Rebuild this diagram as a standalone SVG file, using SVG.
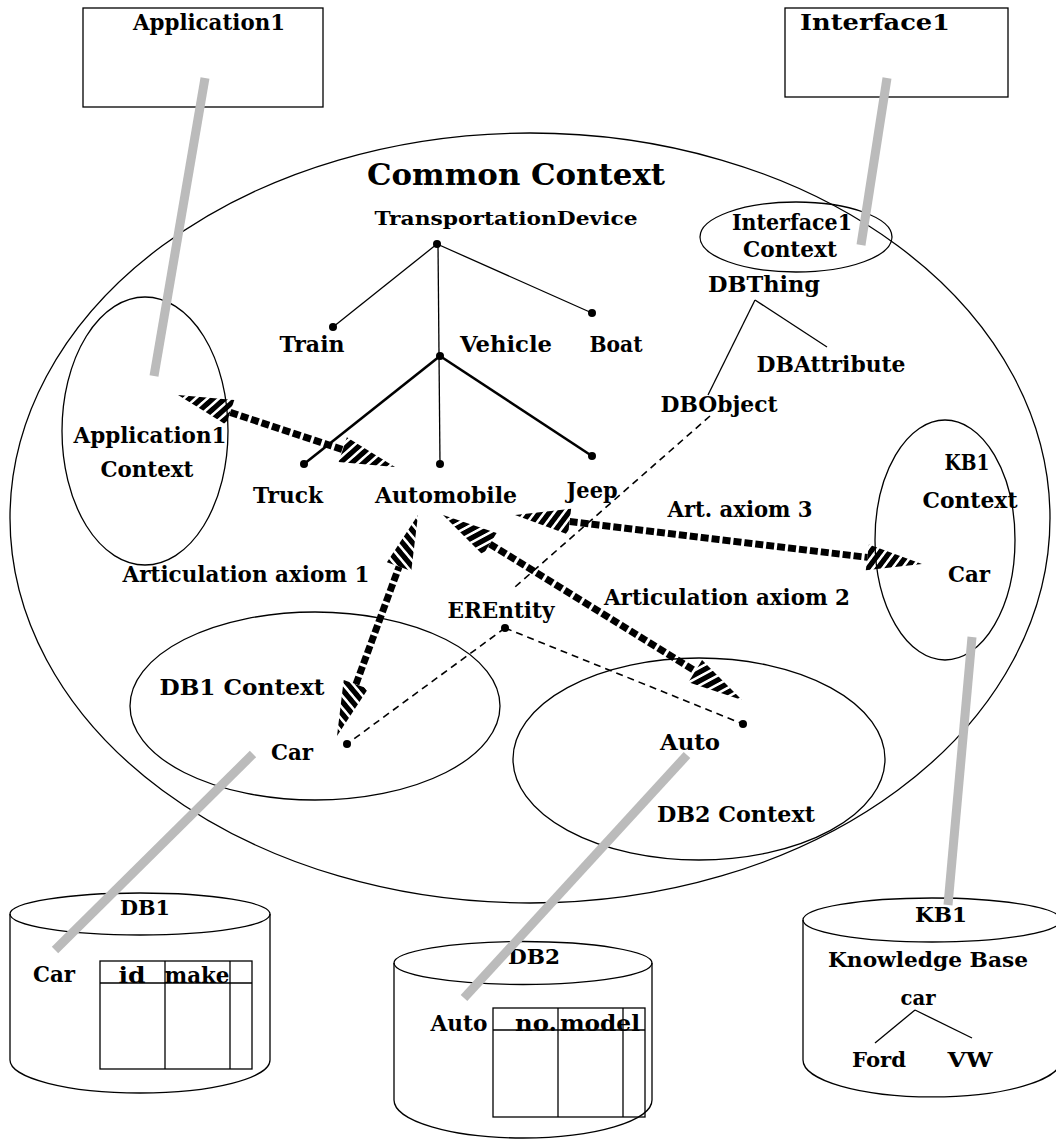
<svg xmlns="http://www.w3.org/2000/svg" width="1056" height="1139" viewBox="0 0 1056 1139">
<style>
.t{font-family:"DejaVu Serif","Liberation Serif",serif;font-weight:bold;font-size:23px;text-anchor:middle;fill:#000}
.s{font-size:21px}
.ol{fill:none;stroke:#000;stroke-width:1.3}
.bx{fill:#fff;stroke:#000;stroke-width:1.3}
.thin{stroke:#000;stroke-width:1.3;fill:none}
.thick{stroke:#000;stroke-width:2.6;fill:none}
.dash{stroke:#000;stroke-width:1.6;stroke-dasharray:7 5;fill:none}
.gray{stroke:#bbbbbb;stroke-width:9;fill:none}
.shaft{fill:url(#shaftPat)}
.head{fill:url(#headPat)}
</style>
<defs>
<pattern id="shaftPat" patternUnits="userSpaceOnUse" width="11" height="40"><rect x="0" y="0" width="8" height="40" fill="#000"/></pattern>
<pattern id="headPat" patternUnits="userSpaceOnUse" width="9" height="40" patternTransform="skewX(-30)"><rect x="0" y="0" width="6" height="40" fill="#000"/></pattern>
</defs>
<rect width="1056" height="1139" fill="#fff"/>

<g id="common-context">
<ellipse class="ol" cx="530" cy="518" rx="520" ry="385"/>
<text class="t" x="516" y="185" style="font-size:30px" textLength="298" lengthAdjust="spacingAndGlyphs">Common Context</text>
</g>

<g id="application1">
<rect class="bx" x="83" y="8" width="240" height="99"/>
<text class="t" x="209" y="30" textLength="152" lengthAdjust="spacingAndGlyphs">Application1</text>
</g>
<g id="interface1">
<rect class="bx" x="785" y="8" width="223" height="89"/>
<text class="t" x="875" y="30" textLength="150" lengthAdjust="spacingAndGlyphs">Interface1</text>
</g>

<g id="application1-context">
<ellipse class="ol" cx="145" cy="431" rx="83" ry="134"/>
<text class="t" x="150" y="443" textLength="153" lengthAdjust="spacingAndGlyphs">Application1</text>
<text class="t" x="147" y="477" textLength="93" lengthAdjust="spacingAndGlyphs">Context</text>
</g>
<g id="interface1-context">
<ellipse class="ol" cx="796" cy="237" rx="96" ry="35"/>
<text class="t" x="792" y="230" textLength="120" lengthAdjust="spacingAndGlyphs">Interface1</text>
<text class="t" x="790" y="257" textLength="94" lengthAdjust="spacingAndGlyphs">Context</text>
</g>
<g id="kb1-context">
<ellipse class="ol" cx="945" cy="540" rx="70" ry="120"/>
<text class="t" x="967" y="470" textLength="45" lengthAdjust="spacingAndGlyphs">KB1</text>
<text class="t" x="970" y="508" textLength="95" lengthAdjust="spacingAndGlyphs">Context</text>
<text class="t" x="969" y="582" textLength="42" lengthAdjust="spacingAndGlyphs">Car</text>
</g>
<g id="db1-context">
<ellipse class="ol" cx="315" cy="706" rx="185" ry="94"/>
<text class="t" x="242" y="695" textLength="165" lengthAdjust="spacingAndGlyphs">DB1 Context</text>
<text class="t" x="292" y="760" textLength="42" lengthAdjust="spacingAndGlyphs">Car</text>
</g>
<g id="db2-context">
<ellipse class="ol" cx="699" cy="759" rx="186" ry="101"/>
<text class="t" x="690" y="750" textLength="60" lengthAdjust="spacingAndGlyphs">Auto</text>
<text class="t" x="736" y="822" textLength="158" lengthAdjust="spacingAndGlyphs">DB2 Context</text>
</g>

<g id="transportation-device"><text class="t" x="506" y="225" style="font-size:19px" textLength="263" lengthAdjust="spacingAndGlyphs">TransportationDevice</text></g>
<g id="train"><text class="t" x="312" y="352" textLength="65" lengthAdjust="spacingAndGlyphs">Train</text></g>
<g id="vehicle"><text class="t" x="506" y="352" textLength="92" lengthAdjust="spacingAndGlyphs">Vehicle</text></g>
<g id="boat"><text class="t" x="616" y="352" textLength="53" lengthAdjust="spacingAndGlyphs">Boat</text></g>
<g id="truck"><text class="t" x="288" y="503" textLength="70" lengthAdjust="spacingAndGlyphs">Truck</text></g>
<g id="automobile"><text class="t" x="446" y="503" textLength="142" lengthAdjust="spacingAndGlyphs">Automobile</text></g>
<g id="jeep"><text class="t" x="592" y="498" textLength="51" lengthAdjust="spacingAndGlyphs">Jeep</text></g>
<g id="dbthing"><text class="t" x="764" y="292" textLength="112" lengthAdjust="spacingAndGlyphs">DBThing</text></g>
<g id="dbattribute"><text class="t" x="831" y="372" textLength="149" lengthAdjust="spacingAndGlyphs">DBAttribute</text></g>
<g id="dbobject"><text class="t" x="719" y="412" textLength="117" lengthAdjust="spacingAndGlyphs">DBObject</text></g>
<g id="erentity"><text class="t" x="501" y="618" textLength="107" lengthAdjust="spacingAndGlyphs">EREntity</text></g>

<g id="db1">
<path class="bx" d="M10,914 L10,1060 A130,33 0 0 0 270,1060 L270,914"/>
<ellipse class="ol" cx="140" cy="914" rx="130" ry="21"/>
<rect class="ol" x="100" y="961" width="152" height="108"/>
<line class="thin" x1="100" y1="983" x2="252" y2="983"/>
<line class="thin" x1="165" y1="961" x2="165" y2="1069"/>
<line class="thin" x1="230" y1="961" x2="230" y2="1069"/>
<text class="t s" x="145" y="915" textLength="50" lengthAdjust="spacingAndGlyphs">DB1</text>
<text class="t" x="54" y="982" textLength="42" lengthAdjust="spacingAndGlyphs">Car</text>
<text class="t" x="132" y="983" textLength="27" lengthAdjust="spacingAndGlyphs">id</text>
<text class="t" x="197" y="983" textLength="65" lengthAdjust="spacingAndGlyphs">make</text>
</g>
<g id="db2">
<path class="bx" d="M394,963 L394,1100 A129,38 0 0 0 652,1100 L652,963"/>
<ellipse class="ol" cx="523" cy="963" rx="129" ry="21.5"/>
<rect class="ol" x="493" y="1008" width="152" height="109"/>
<line class="thin" x1="493" y1="1030" x2="645" y2="1030"/>
<line class="thin" x1="558" y1="1008" x2="558" y2="1117"/>
<line class="thin" x1="623" y1="1008" x2="623" y2="1117"/>
<text class="t s" x="534" y="964" textLength="52" lengthAdjust="spacingAndGlyphs">DB2</text>
<text class="t" x="459" y="1031" textLength="57" lengthAdjust="spacingAndGlyphs">Auto</text>
<text class="t" x="536" y="1031" textLength="42" lengthAdjust="spacingAndGlyphs">no.</text>
<text class="t" x="600" y="1031" textLength="80" lengthAdjust="spacingAndGlyphs">model</text>
</g>
<g id="kb1">
<path class="bx" d="M803,920 L803,1060 A129,37 0 0 0 1061,1060 L1061,920"/>
<ellipse class="ol" cx="932" cy="920" rx="129" ry="22"/>
<text class="t s" x="941" y="922" textLength="52" lengthAdjust="spacingAndGlyphs">KB1</text>
<text class="t s" x="928" y="967" textLength="200" lengthAdjust="spacingAndGlyphs">Knowledge Base</text>
<text class="t s" x="918" y="1005" textLength="35" lengthAdjust="spacingAndGlyphs">car</text>
<text class="t s" x="879" y="1067" textLength="54" lengthAdjust="spacingAndGlyphs">Ford</text>
<text class="t s" x="970" y="1067" textLength="45" lengthAdjust="spacingAndGlyphs">VW</text>
<line class="thin" x1="915" y1="1010" x2="875" y2="1043"/>
<line class="thin" x1="915" y1="1010" x2="972" y2="1038"/>
</g>

<g id="connectors">
<line class="thin" x1="437" y1="244" x2="333" y2="327"/>
<line class="thin" x1="437" y1="244" x2="592" y2="313"/>
<line class="thin" x1="438" y1="244" x2="440" y2="464"/>
<line class="thick" x1="440" y1="356" x2="304" y2="464"/>
<line class="thick" x1="440" y1="356" x2="592" y2="456"/>
<line class="thin" x1="755" y1="300" x2="708" y2="395"/>
<line class="thin" x1="755" y1="300" x2="827" y2="347"/>
<g fill="#000">
<circle cx="437" cy="244" r="4"/><circle cx="333" cy="327" r="4"/><circle cx="592" cy="313" r="4"/>
<circle cx="440" cy="356" r="4"/><circle cx="304" cy="464" r="4"/><circle cx="440" cy="464" r="4"/>
<circle cx="592" cy="456" r="4"/>
<circle cx="505" cy="628" r="4"/><circle cx="347" cy="744" r="4"/><circle cx="743" cy="724" r="4"/>
</g>
<line class="dash" x1="710" y1="416" x2="515" y2="587"/>
<line class="dash" x1="505" y1="628" x2="347" y2="744"/>
<line class="dash" x1="505" y1="628" x2="743" y2="724"/>
<line class="gray" x1="205" y1="78" x2="154" y2="376"/>
<line class="gray" x1="887" y1="78" x2="861" y2="245"/>
<line class="gray" x1="253" y1="754" x2="55" y2="950"/>
<line class="gray" x1="687" y1="755" x2="464" y2="998"/>
<line class="gray" x1="972" y1="637" x2="948" y2="905"/>
<g transform="translate(178,395) rotate(18.35)">
<polygon class="head" points="0,0 55,-13 55,13"/><rect class="shaft" x="55" y="-3.5" width="118.6" height="7"/><polygon class="head" points="228.6,0 173.6,-13 173.6,13"/>
</g>
<g transform="translate(337,736) rotate(-69.87)">
<polygon class="head" points="0,0 55,-13 55,13"/><rect class="shaft" x="55" y="-3.5" width="125.4" height="7"/><polygon class="head" points="235.4,0 180.4,-13 180.4,13"/>
</g>
<g transform="translate(443,515) rotate(31.75)">
<polygon class="head" points="0,0 55,-13 55,13"/><rect class="shaft" x="55" y="-3.5" width="241.6" height="7"/><polygon class="head" points="351.6,0 296.6,-13 296.6,13"/>
</g>
<g transform="translate(515,515) rotate(6.86)">
<polygon class="head" points="0,0 55,-13 55,13"/><rect class="shaft" x="55" y="-3.5" width="299.9" height="7"/><polygon class="head" points="409.9,0 354.9,-13 354.9,13"/>
</g>
</g>

<g id="axiom-labels">
<text class="t" x="246" y="582" textLength="247" lengthAdjust="spacingAndGlyphs">Articulation axiom 1</text>
<text class="t" x="727" y="605" textLength="246" lengthAdjust="spacingAndGlyphs">Articulation axiom 2</text>
<text class="t" x="740" y="517" textLength="145" lengthAdjust="spacingAndGlyphs">Art. axiom 3</text>
</g>
</svg>
